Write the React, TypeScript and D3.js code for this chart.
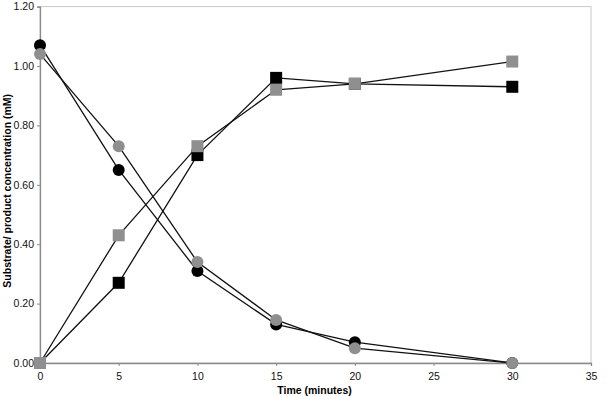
import * as d3 from "d3";
import { useRef, useEffect } from "react";

// Sampling times (minutes)
const times = [0, 5, 10, 15, 20, 30];

// Substrate (circles) and product (squares), two runs each
const substrateA = [1.07, 0.65, 0.31, 0.13, 0.07, 0.0];
const substrateB = [1.04, 0.73, 0.34, 0.145, 0.05, 0.0];
const productA = [0.0, 0.27, 0.7, 0.96, 0.94, 0.93];
const productB = [0.0, 0.43, 0.73, 0.92, 0.94, 1.015];

const xTicks = [0, 5, 10, 15, 20, 25, 30, 35];
const yTicks = [0, 0.2, 0.4, 0.6, 0.8, 1.0, 1.2];

const GREY = "#8f8f8f";

const series = [
  { values: substrateA, shape: "circle", fill: "#000" },
  { values: productA, shape: "square", fill: "#000" },
  { values: substrateB, shape: "circle", fill: GREY },
  { values: productB, shape: "square", fill: GREY },
];

export default function App() {
  const ref = useRef<SVGSVGElement>(null);
  const width = 607;
  const height = 396;
  const margin = { left: 40, right: 16, top: 6.6, bottom: 33 };

  useEffect(() => {
    const svg = d3.select(ref.current);
    svg.selectAll("*").remove();

    const x = d3.scaleLinear().domain([0, 35]).range([margin.left, width - margin.right]);
    const y = d3.scaleLinear().domain([0, 1.2]).range([height - margin.bottom, margin.top]);

    // Plot area frame
    svg
      .append("rect")
      .attr("x", x(0))
      .attr("y", y(1.2))
      .attr("width", x(35) - x(0))
      .attr("height", y(0) - y(1.2))
      .attr("fill", "none")
      .attr("stroke", "#c8c8c8")
      .attr("stroke-width", 1);

    // Axes
    const xAxis = svg
      .append("g")
      .attr("transform", `translate(0,${y(0)})`)
      .call(d3.axisBottom(x).tickValues(xTicks).tickSize(3).tickPadding(7).tickFormat(d3.format("d")));
    const yAxis = svg
      .append("g")
      .attr("transform", `translate(${x(0)},0)`)
      .call(d3.axisLeft(y).tickValues(yTicks).tickSize(3).tickPadding(3).tickFormat(d3.format(".2f")));

    [xAxis, yAxis].forEach((g) => {
      g.select(".domain").attr("stroke", "#8a8a8a").attr("stroke-width", 1.3);
      g.selectAll(".tick line").attr("stroke", "#8a8a8a");
      g.selectAll(".tick text")
        .attr("fill", "#111")
        .style("font-family", "Liberation Sans, Arial, sans-serif")
        .style("font-size", "10.5px");
    });

    // Axis titles
    svg
      .append("text")
      .attr("x", (x(0) + x(35)) / 2 - 1)
      .attr("y", 394)
      .attr("text-anchor", "middle")
      .style("font-family", "Liberation Sans, Arial, sans-serif")
      .style("font-size", "10.5px")
      .style("font-weight", "bold")
      .text("Time (minutes)");

    svg
      .append("text")
      .attr("transform", `translate(11,${(y(0) + y(1.2)) / 2 + 6}) rotate(-90)`)
      .attr("text-anchor", "middle")
      .style("font-family", "Liberation Sans, Arial, sans-serif")
      .style("font-size", "10.5px")
      .style("font-weight", "bold")
      .text("Substrate/ product concentration (mM)");

    const line = d3
      .line<number>()
      .x((d, i) => x(times[i]))
      .y((d) => y(d));

    // Connecting lines first, markers on top
    svg
      .append("g")
      .selectAll("path")
      .data(series)
      .join("path")
      .attr("d", (s) => line(s.values))
      .attr("fill", "none")
      .attr("stroke", "#111")
      .attr("stroke-width", 1.3);

    series.forEach((s) => {
      const g = svg.append("g");
      if (s.shape === "circle") {
        g.selectAll("circle")
          .data(s.values)
          .join("circle")
          .attr("cx", (d, i) => x(times[i]))
          .attr("cy", (d) => y(d))
          .attr("r", 6)
          .attr("fill", s.fill);
      } else {
        g.selectAll("rect")
          .data(s.values)
          .join("rect")
          .attr("x", (d, i) => x(times[i]) - 6)
          .attr("y", (d) => y(d) - 6)
          .attr("width", 12)
          .attr("height", 12)
          .attr("fill", s.fill);
      }
    });
  }, []);

  return (
    <svg
      ref={ref}
      width={width}
      height={height}
      style={{ position: "absolute", left: 0, top: 0, background: "#fff" }}
    />
  );
}
